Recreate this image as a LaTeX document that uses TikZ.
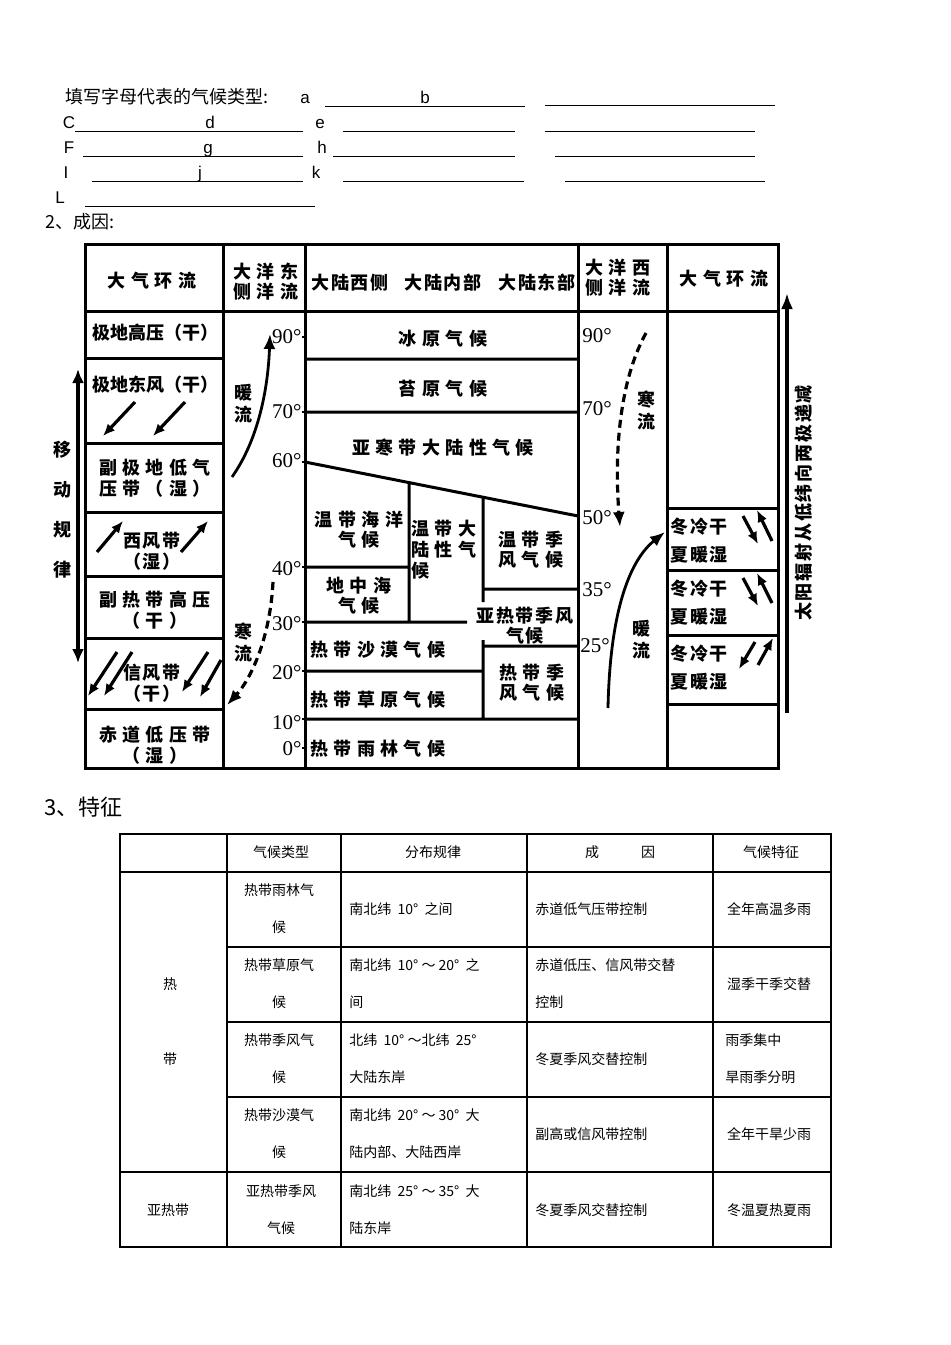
\documentclass[tikz,border=0pt]{standalone}
\usepackage{fontspec}
\setmainfont{Liberation Sans}
\newfontfamily\cjk{Noto Sans CJK SC}
\newfontfamily\kaiw[LetterSpace=30]{Noto Sans CJK SC}
\newfontfamily\kain[LetterSpace=10]{Noto Sans CJK SC}
\newfontfamily\degfont{Liberation Serif}
\usetikzlibrary{arrows.meta}

\begin{document}
\begin{tikzpicture}[
  x=0.5pt, y=-0.5pt,
  txt/.style={inner sep=0pt, font=\cjk\fontsize{9}{10}\selectfont},
  ltr/.style={inner sep=0pt, anchor=base, font=\fontsize{8.5}{10}\selectfont},
  blank/.style={line width=0.5pt},
  frame/.style={line width=1.5pt},
  labw/.style={inner sep=0pt, align=center, font=\kaiw\bfseries\fontsize{9}{10}\selectfont},
  labn/.style={inner sep=0pt, align=center, font=\kain\bfseries\fontsize{9}{10}\selectfont},
  labt/.style={inner sep=0pt, align=center, font=\cjk\bfseries\fontsize{9}{10}\selectfont},
  deg/.style={inner sep=0pt, font=\degfont\fontsize{10.5}{11}\selectfont},
  wind/.style={line width=1.6pt, -{Latex[length=6pt,width=5pt]}},
  warm/.style={line width=1.4pt, -{Latex[length=7.5pt,width=6pt]}},
  cold/.style={line width=1.6pt, dash pattern=on 4pt off 2.5pt, -{Latex[length=7.5pt,width=6pt]}},
  tline/.style={line width=0.6pt},
  tcell/.style={inner sep=0pt, font=\cjk\fontsize{7}{18.5}\selectfont}
]
\fill[white] (0,0) rectangle (950,1345);
\useasboundingbox (0,0) rectangle (950,1345);

% fill-in lines
\node[txt, anchor=west] (intro) at (65,97) {填写字母代表的气候类型:};
\node[ltr] (la) at (305,103) {a};
\node[ltr] (lb) at (425,103) {b};
\node[ltr] (lc) at (69,128) {C};
\node[ltr] (ld) at (210,128) {d};
\node[ltr] (le) at (320,128) {e};
\node[ltr] (lf) at (69,153) {F};
\node[ltr] (lg) at (208,153) {g};
\node[ltr] (lh) at (322,153) {h};
\node[ltr] (li) at (66,178) {I};
\node[ltr] (lj) at (200,178) {j};
\node[ltr] (lk) at (316,178) {k};
\node[ltr] (ll) at (60,203) {L};
\draw[blank] (325,106) -- (525,106) (545,105) -- (775,105);
\draw[blank] (75,131) -- (303,131) (343,131) -- (515,131) (545,131) -- (755,131);
\draw[blank] (83,156) -- (303,156) (333,156) -- (515,156) (555,156) -- (755,156);
\draw[blank] (92,181) -- (303,181) (343,181) -- (524,181) (565,181) -- (765,181);
\draw[blank] (85,206) -- (315,206);
\node[txt, anchor=west] (cause) at (45,222) {2、成因:};

% frame of the chart
\draw[frame] (85,244) rectangle (778,768);
\draw[frame] (223,244) -- (223,768) (305,244) -- (305,768) (578,244) -- (578,768) (667,244) -- (667,768);
\draw[frame] (85,311) -- (778,311);
\draw[frame] (85,358) -- (223,358) (85,443) -- (223,443) (85,512) -- (223,512)
  (85,576) -- (223,576) (85,638) -- (223,638) (85,709) -- (223,709);
\draw[frame] (305,359) -- (578,359) (305,412) -- (578,412) (305,462) -- (578,516)
  (409,483) -- (409,622) (483,497) -- (483,602) (483,640) -- (483,719)
  (305,567) -- (409,567) (305,622) -- (467,622) (483,589) -- (578,589)
  (483,646) -- (578,646) (305,671) -- (483,671) (305,719) -- (578,719);
\draw[frame] (667,508) -- (778,508) (667,570) -- (778,570) (667,635) -- (778,635) (667,704) -- (778,704);
\draw[line width=1pt] (302,337) -- (305,337) (302,412) -- (305,412) (302,462) -- (305,462)
  (302,567) -- (305,567) (302,622) -- (305,622) (302,671) -- (305,671) (302,719) -- (305,719) (302,748) -- (305,748);

% headers
\node[labw] (hdrAtmL) at (152,281) {大气环流};
\node[labw] (hdrEastOcean) at (266,282) {大洋东\\侧洋流};
\node[labn] (hdrWest) at (350,283) {大陆西侧};
\node[labn] (hdrInner) at (443,283) {大陆内部};
\node[labn] (hdrEast) at (537,283) {大陆东部};
\node[labw] (hdrWestOcean) at (618,278) {大洋西\\侧洋流};
\node[labw] (hdrAtmR) at (724,279) {大气环流};

% pressure and wind belts
\node[labt] (polarHigh) at (155,333) {极地高压（干）};
\node[labt] (polarEast) at (155,385) {极地东风（干）};
\node[labw, font=\kaiw\bfseries\fontsize{9}{10.5}\selectfont] (subPolar) at (155,478) {副极地低气\\压带（湿）};
\node[labn, font=\kain\bfseries\fontsize{9}{10.5}\selectfont] (westerly) at (152,551) {西风带\\（湿）};
\node[labw, font=\kaiw\bfseries\fontsize{9}{10.5}\selectfont] (subTropHigh) at (155,610) {副热带高压\\（干）};
\node[labn, font=\kain\bfseries\fontsize{9}{10.5}\selectfont] (trade) at (152,683) {信风带\\（干）};
\node[labw, font=\kaiw\bfseries\fontsize{9}{10.5}\selectfont] (equLow) at (155,745) {赤道低压带\\（湿）};
\draw[wind] (135,402) -- (103,436);
\draw[wind] (185,402) -- (153,436);
\draw[wind] (97,552) -- (123,521);
\draw[wind] (181,552) -- (208,521);
\draw[wind] (117,652) -- (88,696);
\draw[wind] (132,652) -- (104,696);
\draw[wind] (208,652) -- (182,692);
\draw[wind] (221,660) -- (200,697);

% climate types
\node[labw] (icecap) at (443,339) {冰原气候};
\node[labw] (tundra) at (443,389) {苔原气候};
\node[labw] (subarctic) at (443,448) {亚寒带大陆性气候};
\node[labw] (tempOcean) at (359,530) {温带海洋\\气候};
\node[labw, anchor=west, align=left, font=\kaiw\bfseries\fontsize{9}{10.5}\selectfont] (tempCont) at (411,550) {温带大\\陆性气\\候};
\node[labw] (tempMonsoon) at (531,550) {温带季\\风气候};
\node[labw] (medit) at (359,596) {地中海\\气候};
\node[labn] (subtropMonsoon) at (525,626) {亚热带季风\\气候};
\node[labw, anchor=west] (tropDesert) at (310,650) {热带沙漠气候};
\node[labw, anchor=west] (tropSavanna) at (310,700) {热带草原气候};
\node[labw] (tropMonsoon) at (532,683) {热带季\\风气候};
\node[labw, anchor=west] (tropRain) at (310,749) {热带雨林气候};

% monsoon rows
\node[labn, anchor=west, align=left, font=\kain\bfseries\fontsize{9}{14}\selectfont] (monsoonA) at (670,541) {冬冷干\\夏暖湿};
\node[labn, anchor=west, align=left, font=\kain\bfseries\fontsize{9}{14}\selectfont] (monsoonB) at (670,603) {冬冷干\\夏暖湿};
\node[labn, anchor=west, align=left, font=\kain\bfseries\fontsize{9}{14}\selectfont] (monsoonC) at (670,668) {冬冷干\\夏暖湿};
\draw[wind] (743,516) -- (758,544);
\draw[wind] (772,541) -- (757,510);
\draw[wind] (743,578) -- (758,606);
\draw[wind] (772,603) -- (757,573);
\draw[wind] (755,642) -- (739,669);
\draw[wind] (758,665) -- (773,638);

% latitudes
\node[deg, anchor=east] (degE90) at (302,337) {90°};
\node[deg, anchor=east] (degE70) at (302,412) {70°};
\node[deg, anchor=east] (degE60) at (302,461) {60°};
\node[deg, anchor=east] (degE40) at (302,569) {40°};
\node[deg, anchor=east] (degE30) at (302,624) {30°};
\node[deg, anchor=east] (degE20) at (302,673) {20°};
\node[deg, anchor=east] (degE10) at (302,723) {10°};
\node[deg, anchor=east] (degE0) at (302,749) {0°};
\node[deg, anchor=west] (degW90) at (582,336) {90°};
\node[deg, anchor=west] (degW70) at (582,409) {70°};
\node[deg, anchor=west] (degW50) at (582,518) {50°};
\node[deg, anchor=west] (degW35) at (582,590) {35°};
\node[deg, anchor=west] (degW25) at (580,646) {25°};

% ocean currents
\node[labn, font=\kain\bfseries\fontsize{9}{11}\selectfont] (warmEast) at (243,404) {暖\\流};
\node[labn, font=\kain\bfseries\fontsize{9}{11}\selectfont] (coldEast) at (243,642) {寒\\流};
\node[labn, font=\kain\bfseries\fontsize{9}{11}\selectfont] (coldWest) at (646,410) {寒\\流};
\node[labn, font=\kain\bfseries\fontsize{9}{11}\selectfont] (warmWest) at (641,640) {暖\\流};
\draw[warm] (232,477) .. controls (258,440) and (268,390) .. (270,334);
\draw[cold] (273,582) .. controls (270,640) and (250,680) .. (227,705);
\draw[cold] (646,333) .. controls (620,380) and (614,450) .. (620,527);
\draw[warm] (608,708) .. controls (610,610) and (630,560) .. (665,532);

% side arrows
\draw[line width=1.6pt, {Latex[length=7pt,width=6pt]}-{Latex[length=7pt,width=6pt]}] (78,369) -- (78,663);
\node[labn, font=\kain\bfseries\fontsize{9}{20}\selectfont] (shiftRule) at (63,510) {移\\动\\规\\律};
\draw[line width=1.6pt, -{Latex[length=8pt,width=6pt]}] (787,713) -- (787,293);
\node[labn, rotate=90] (solarRule) at (804,503) {太阳辐射从低纬向两极递减};

% table
\node[txt, anchor=west, font=\cjk\fontsize{11}{12}\selectfont] (feature) at (44,807) {3、特征};
\draw[tline] (120,834) rectangle (831,1247);
\draw[tline] (227,834) -- (227,1247) (341,834) -- (341,1247) (527,834) -- (527,1247) (713,834) -- (713,1247);
\draw[tline] (120,872) -- (831,872) (227,947) -- (831,947) (227,1022) -- (831,1022) (227,1097) -- (831,1097) (120,1172) -- (831,1172);
\node[tcell] (thType) at (281,852) {气候类型};
\node[tcell] (thDist) at (433,852) {分布规律};
\node[tcell] (thCause) at (620,852) {成\hspace{3em}因};
\node[tcell] (thFeat) at (771,852) {气候特征};
\node[tcell] (zoneTropA) at (170,984) {热};
\node[tcell] (zoneTropB) at (170,1059) {带};
\node[tcell] (zoneSub) at (168,1210) {亚热带};

\node[tcell, align=center] (typeRain) at (279,909) {热带雨林气\\候};
\node[tcell, anchor=west] (distRain) at (349,909) {南北纬\ \ 10°\ \ 之间};
\node[tcell, anchor=west] (causeRain) at (535,909) {赤道低气压带控制};
\node[tcell] (featRain) at (769,909) {全年高温多雨};

\node[tcell, align=center] (typeSav) at (279,984) {热带草原气\\候};
\node[tcell, anchor=west, align=left] (distSav) at (349,984) {南北纬\ \ 10°\ ～\ 20°\ \ 之\\间};
\node[tcell, anchor=west, align=left] (causeSav) at (535,984) {赤道低压、信风带交替\\控制};
\node[tcell] (featSav) at (769,984) {湿季干季交替};

\node[tcell, align=center] (typeMon) at (279,1059) {热带季风气\\候};
\node[tcell, anchor=west, align=left] (distMon) at (349,1059) {北纬\ \ 10°\ ～北纬\ \ 25°\\大陆东岸};
\node[tcell, anchor=west] (causeMon) at (535,1059) {冬夏季风交替控制};
\node[tcell, anchor=west, align=left] (featMon) at (725,1059) {雨季集中\\旱雨季分明};

\node[tcell, align=center] (typeDes) at (279,1134) {热带沙漠气\\候};
\node[tcell, anchor=west, align=left] (distDes) at (349,1134) {南北纬\ \ 20°\ ～\ 30°\ \ 大\\陆内部、大陆西岸};
\node[tcell, anchor=west] (causeDes) at (535,1134) {副高或信风带控制};
\node[tcell] (featDes) at (769,1134) {全年干旱少雨};

\node[tcell, align=center] (typeSubMon) at (281,1210) {亚热带季风\\气候};
\node[tcell, anchor=west, align=left] (distSubMon) at (349,1210) {南北纬\ \ 25°\ ～\ 35°\ \ 大\\陆东岸};
\node[tcell, anchor=west] (causeSubMon) at (535,1210) {冬夏季风交替控制};
\node[tcell] (featSubMon) at (769,1210) {冬温夏热夏雨};
\end{tikzpicture}
\end{document}
